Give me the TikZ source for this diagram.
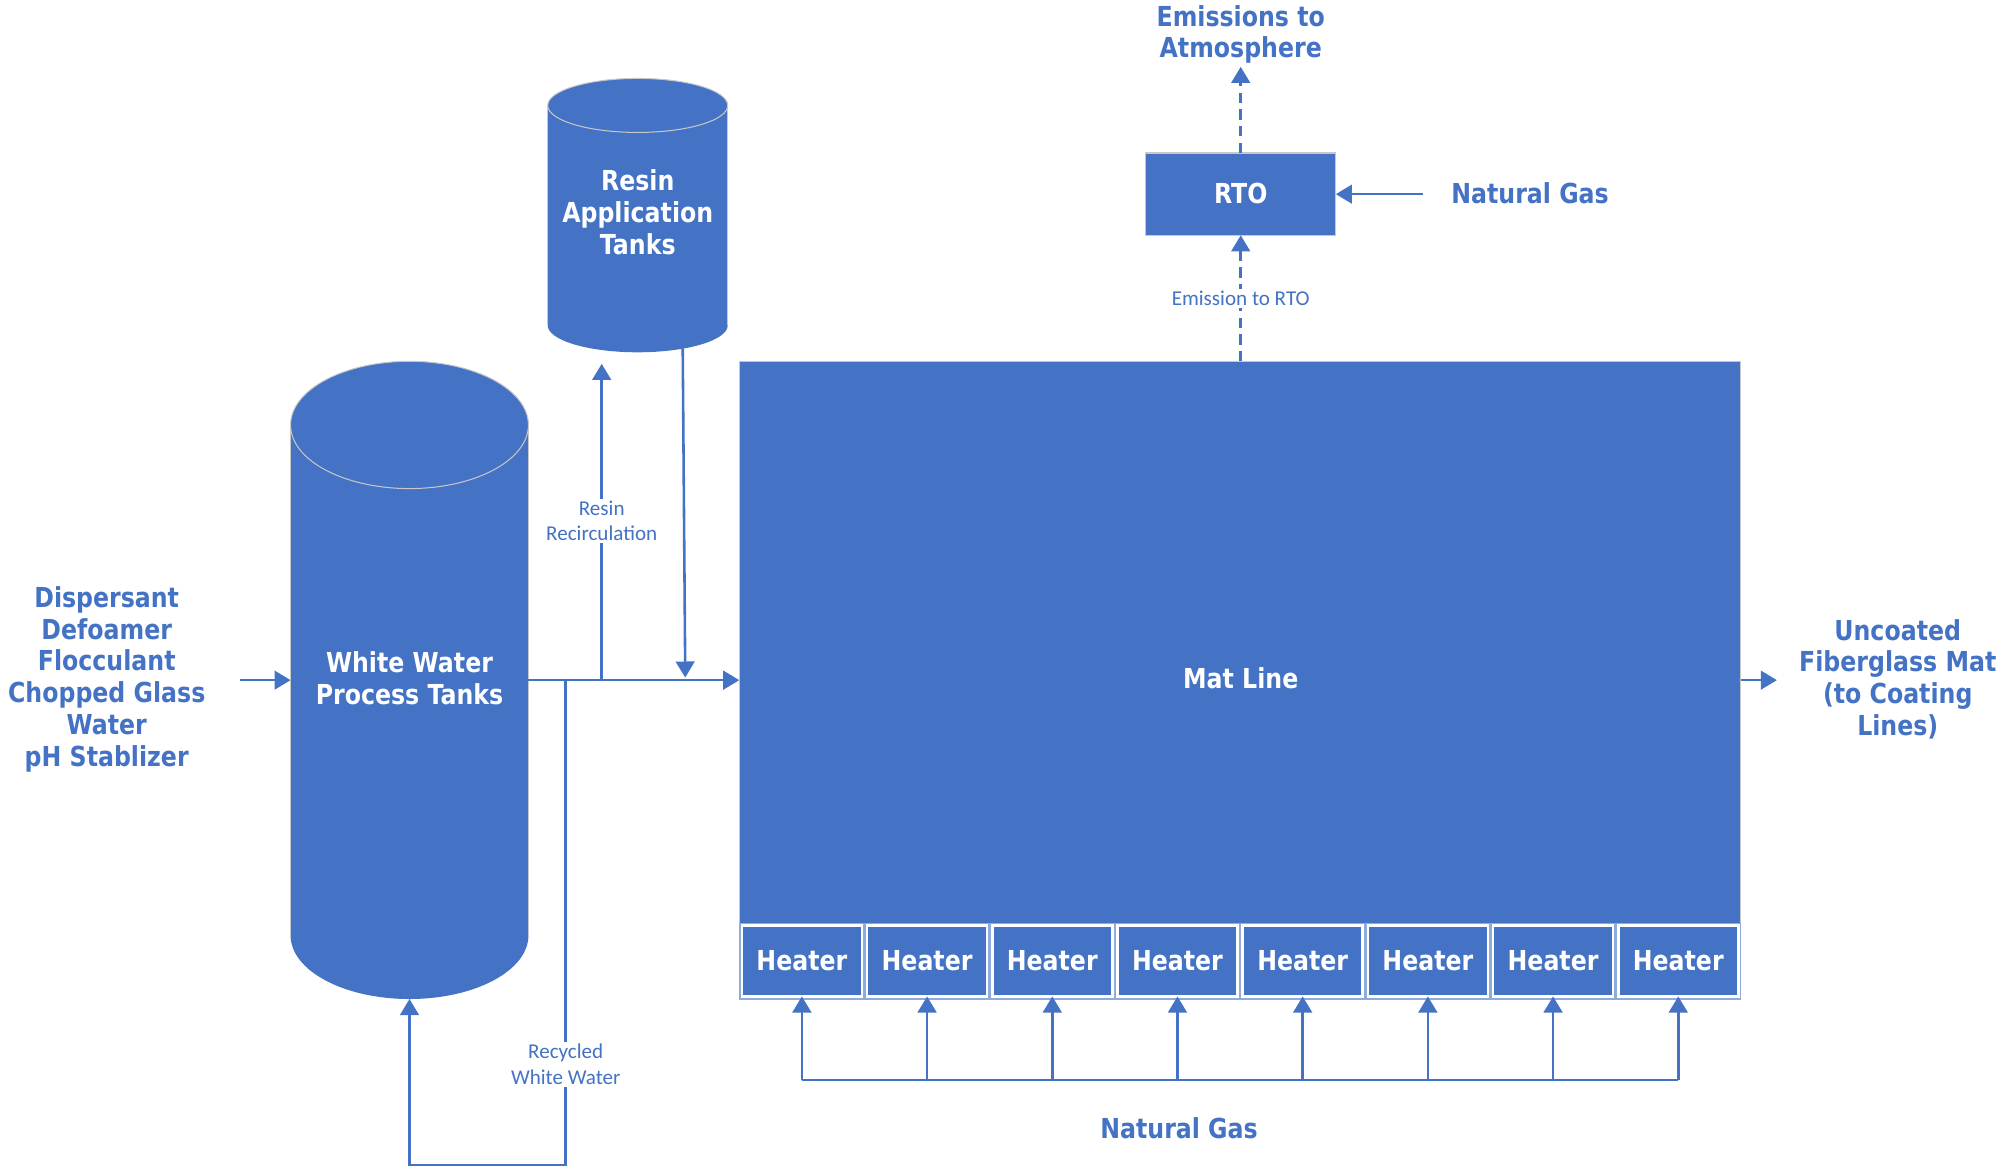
\documentclass[tikz,border=0pt]{standalone}
\usepackage{fontspec}
\setmainfont{Carlito}
\newfontfamily\tah{DejaVu Sans}[FakeStretch=0.86]
\usetikzlibrary{arrows.meta}
\definecolor{ob}{HTML}{4472C4}
\definecolor{edgegrey}{HTML}{C8C8C8}
\definecolor{strip}{HTML}{8FAADC}
\begin{document}
\begin{tikzpicture}[x=1pt,y=-1pt,
  big/.style={font=\tah\bfseries\fontsize{21.4}{24.8}\selectfont, align=center, inner sep=0pt, yshift=-0.3pt},
  bigblue/.style={big,text=ob},
  bigwhite/.style={big,text=white},
  small/.style={font=\fontsize{16.4}{20}\selectfont, text=ob, align=center, fill=white, inner sep=1.5pt},
  flow/.style={draw=ob, line width=2pt, -{Triangle[length=12.5pt,width=14.5pt]}},
  pipe/.style={draw=ob, line width=2pt},
  dflow/.style={flow, dash pattern=on 8pt off 5pt},
  heaterbox/.style={big, yshift=0.3pt, text=white, fill=ob, draw=white, line width=2pt, minimum width=93.4pt, minimum height=55pt},
  tankbox/.style={inner sep=0pt, outer sep=0pt},
]
\useasboundingbox[fill=white] (0,0) rectangle (1568,908);

% ---------- White water tank ----------
\fill[ob] (226,330.5) rectangle (411,727.5);
\fill[ob] (318.5,727.5) ellipse [x radius=92.5, y radius=49.5];
\fill[ob] (318.5,330.5) ellipse [x radius=92.5, y radius=49.5];
\draw[edgegrey, line width=0.8pt] (318.5,330.5) ellipse [x radius=92.5, y radius=49.5];
\draw[edgegrey, line width=0.6pt] (226,330.5) -- (226,727.5) (411,330.5) -- (411,727.5);
\node[tankbox, minimum width=185pt, minimum height=496pt] (wwtank) at (318.5,529) {};
\node[bigwhite] (wwtxt) at (318.5,527.5) {White Water\\Process Tanks};

% ---------- Resin tank ----------
\fill[ob] (426,82) rectangle (566,253);
\fill[ob] (496,253) ellipse [x radius=70, y radius=21];
\fill[ob] (496,82) ellipse [x radius=70, y radius=21];
\draw[edgegrey, line width=0.8pt] (496,82) ellipse [x radius=70, y radius=21];
\draw[edgegrey, line width=0.6pt] (426,82) -- (426,253) (566,82) -- (566,253);
\node[tankbox, minimum width=140pt, minimum height=213pt] (resin) at (496,167.5) {};
\node[bigwhite] (resintxt) at (496,165) {Resin\\Application\\Tanks};

% ---------- Mat line ----------
\node[tankbox, fill=ob, draw=edgegrey, line width=0.8pt, minimum width=779pt, minimum height=437pt] (matline) at (964.5,499.5) {};
\node[bigwhite] (mattxt) at (965,527.5) {Mat Line};

% heaters
\fill[strip] (575,718) rectangle (1354,777.5);
\foreach \i in {1,...,8} {
  \node[heaterbox] (h\i) at ({575+97.375*(\i-0.5)},747.5) {Heater};
}

% ---------- RTO ----------
\node[tankbox, fill=ob, draw=edgegrey, line width=0.8pt, minimum width=148pt, minimum height=64pt] (rto) at (965,151) {};
\node[bigwhite] (rtotxt) at (965,150.5) {RTO};
\node[bigblue] (emis) at (965,26.5) {Emissions to\\Atmosphere};
\node[bigblue] (ng1) at (1190,150) {Natural Gas};
\node[bigblue] (ng2) at (917,877) {Natural Gas};

% ---------- inputs / outputs ----------
\node[bigblue] (inp) at (83,528) {Dispersant\\Defoamer\\Flocculant\\Chopped Glass\\Water\\pH Stablizer};
\node[bigblue] (outp) at (1476,528) {Uncoated\\Fiberglass Mat\\(to Coating\\Lines)};

% ---------- coordinates ----------
\coordinate (inR) at (187,529);
\coordinate (jrec) at (440,529);
\coordinate (jres) at (468,529);
\coordinate (restip) at (468,283);
\coordinate (resout) at (531,271);
\coordinate (resin2) at (533,529);
\coordinate (recbot) at (440,906);
\coordinate (wwbot) at (318.5,906);
\coordinate (outR) at (1382,529);
\coordinate (emtip) at (965,52);
\coordinate (ngstart) at (1107,151);
\coordinate (gasL) at (h1.south |- 0,840);
\coordinate (gasR) at (h8.south |- 0,840);

% ---------- connectors ----------
\draw[flow] (inR) -- (wwtank.west);
\draw[flow] (wwtank.east) -- (wwtank.east -| matline.west);
\draw[flow] (jres) -- (restip);
\draw[flow, shorten >=2pt] (resout) -- (resin2);
\draw[flow] (jrec) -- (recbot) -- (wwbot) -- (wwtank.south);
\draw[flow] (matline.east |- outR) -- (outR);
\draw[dflow] (rto.south |- matline.north) -- (rto.south);
\draw[dflow] (rto.north) -- (emtip);
\draw[flow] (ngstart) -- (rto.east);
\draw[pipe] (gasL) -- (gasR);
\foreach \i in {1,...,8} {
  \draw[flow] (h\i.south |- gasL) -- ([yshift=1pt]h\i.south);
}

% ---------- connector labels ----------
\node[small] (lres) at (468,405) {Resin\\Recirculation};
\node[small] (lrec) at (440,828) {Recycled\\White Water};
\node[small] (lemi) at (965,232) {Emission to RTO};
\end{tikzpicture}
\end{document}
